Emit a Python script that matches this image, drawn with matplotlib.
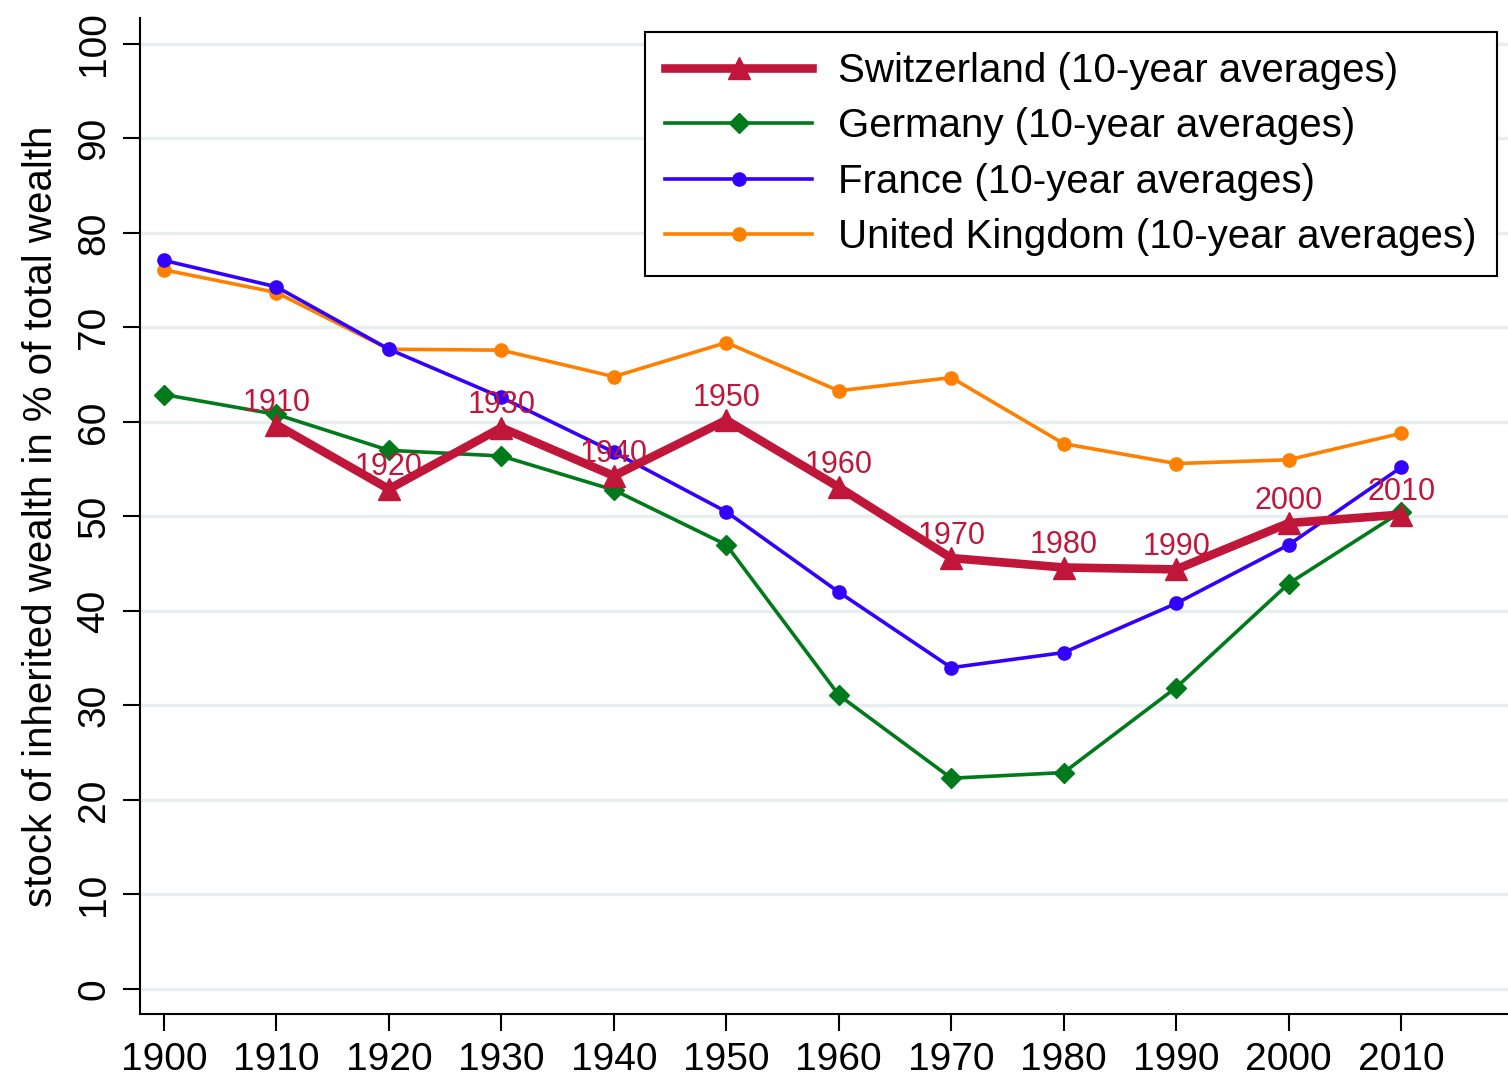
import matplotlib
matplotlib.use("Agg")
import matplotlib.pyplot as plt

plt.rcParams['font.family'] = ['Liberation Sans', 'DejaVu Sans']

years = [1900, 1910, 1920, 1930, 1940, 1950, 1960, 1970, 1980, 1990, 2000, 2010]
swiss_years = [1910, 1920, 1930, 1940, 1950, 1960, 1970, 1980, 1990, 2000, 2010]
switzerland = [59.7, 52.9, 59.4, 54.3, 60.2, 53.1, 45.6, 44.6, 44.4, 49.3, 50.2]
germany = [62.9, 60.8, 57.0, 56.4, 52.8, 47.0, 31.1, 22.3, 22.9, 31.9, 42.9, 50.5]
france = [77.1, 74.3, 67.7, 62.6, 56.8, 50.5, 42.0, 34.0, 35.6, 40.8, 47.0, 55.2]
uk = [76.1, 73.7, 67.7, 67.6, 64.8, 68.4, 63.3, 64.7, 57.7, 55.6, 56.0, 58.8]
yticks = [0, 10, 20, 30, 40, 50, 60, 70, 80, 90, 100]

fig = plt.figure(figsize=(15.08, 10.82), dpi=100)
ax = fig.add_axes([140/1508, 1 - 1014/1082, 1 - 140/1508, (1014 - 18)/1082])

for y in yticks:
    ax.axhline(y, color='#e6eef0', lw=2.5, zorder=0)

ax.plot(years, uk, color='#ff8000', lw=2.6, marker='o', ms=9.5,
        label='United Kingdom (10-year averages)', zorder=2)
ax.plot(years, france, color='#3300ff', lw=2.6, marker='o', ms=9.5,
        label='France (10-year averages)', zorder=3)
ax.plot(years, germany, color='#007a1a', lw=2.6, marker='D', ms=10.5,
        label='Germany (10-year averages)', zorder=4)
ax.plot(swiss_years, switzerland, color='#c0163a', lw=6.2, marker='^', ms=16,
        label='Switzerland (10-year averages)', zorder=5)

for x, v in zip(swiss_years, switzerland):
    ax.annotate(str(x), (x, v), xytext=(0, 16), textcoords='offset points',
                ha='center', va='center', fontsize=22, color='#c0163a', zorder=6)

ax.set_xlim(1897.87, 2019.5)
ax.set_ylim(-2.65, 102.75)
ax.set_xticks(years)
ax.set_yticks(yticks)
ax.set_yticklabels([str(v) for v in yticks], rotation=90, va='center')
ax.tick_params(axis='both', labelsize=28, length=12, width=1.5, color='black', pad=8)
ax.spines['top'].set_visible(False)
ax.spines['right'].set_visible(False)
ax.spines['left'].set_linewidth(1.5)
ax.spines['bottom'].set_linewidth(1.5)
ax.set_ylabel('stock of inherited wealth in % of total wealth', fontsize=29, labelpad=12)

handles, labels = ax.get_legend_handles_labels()
order = [3, 2, 1, 0]
leg = ax.legend([handles[i] for i in order], [labels[i] for i in order],
                loc='upper left', bbox_to_anchor=(645/1508, 1 - 32/1082),
                bbox_transform=fig.transFigure, fontsize=29,
                frameon=True, fancybox=False, edgecolor='black', framealpha=1,
                handlelength=3.65, labelspacing=0.43, borderpad=0.5,
                handletextpad=0.65, borderaxespad=0)
leg.get_frame().set_linewidth(1.5)

fig.savefig('out.png', dpi=100, facecolor='white')
